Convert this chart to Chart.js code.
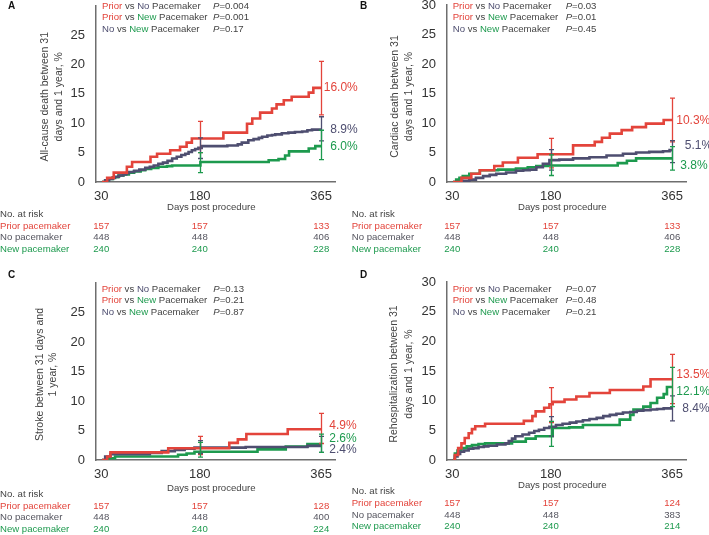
<!DOCTYPE html>
<html><head><meta charset="utf-8">
<script src="https://cdn.jsdelivr.net/npm/chart.js@4.4.1/dist/chart.umd.min.js"></script>
<style>
html,body{margin:0;padding:0;background:#fff;}
body{width:709px;height:535px;position:relative;overflow:hidden;}
canvas{position:absolute;}
</style></head><body>
<canvas id="cA" width="366" height="268" style="left:0;top:0"></canvas>
<canvas id="cB" width="359" height="268" style="left:350px;top:0"></canvas>
<canvas id="cC" width="366" height="267" style="left:0;top:268px"></canvas>
<canvas id="cD" width="359" height="267" style="left:350px;top:268px"></canvas>
<script>
// ---------- DATA ----------
const xTickDays = [30, 180, 365];
const ciDays = [180, 365];
const groupWords = ["Prior", "No", "New"];
const groupPairs = [[0, 1], [0, 2], [1, 2]];
const riskRowLabels = ["Prior pacemaker", "No pacemaker", "New pacemaker"];

// Panel A: all-cause death
const A_yTitle = ["All-cause death between 31", "days and 1 year, %"];
const A_pvals = ["0.004", "0.001", "0.17"];
const A_endLabels = ["16.0%", "8.9%", "6.0%"];
const A_risk_prior = [157, 157, 133];
const A_risk_no = [448, 448, 406];
const A_risk_new = [240, 240, 228];
const A_prior_days = [31, 39, 49, 69, 77, 105, 115, 135, 150, 160, 168, 216, 252, 260, 272, 290, 297, 308, 320, 346, 353, 365];
const A_prior_pct  = [0, 0.7, 1.6, 2.6, 3.4, 4.3, 4.8, 5.4, 6.0, 6.7, 7.4, 8.4, 9.9, 10.8, 11.8, 12.5, 13.2, 13.9, 14.5, 15.2, 16.0, 16.0];
const A_no_days = [31, 36, 42, 47, 51, 57, 63, 68, 72, 80, 88, 97, 104, 110, 117, 124, 131, 138, 145, 152, 158, 163, 168, 173, 178, 183, 200, 222, 238, 244, 254, 262, 270, 275, 283, 290, 295, 305, 315, 325, 336, 344, 351, 365];
const A_no_pct  = [0, 0.3, 0.5, 0.7, 0.9, 1.1, 1.3, 1.5, 1.7, 1.9, 2.1, 2.4, 2.6, 2.8, 3.1, 3.3, 3.6, 4.0, 4.3, 4.6, 4.8, 5.1, 5.4, 5.6, 5.8, 6.1, 6.1, 6.2, 6.4, 6.7, 7.1, 7.3, 7.5, 7.7, 7.9, 8.0, 8.1, 8.3, 8.4, 8.5, 8.6, 8.8, 8.9, 8.9];
const A_new_days = [31, 36, 41, 48, 56, 64, 72, 80, 90, 97, 106, 117, 130, 138, 181, 285, 300, 310, 316, 346, 356, 365];
const A_new_pct  = [0, 0.3, 0.5, 0.8, 1.1, 1.3, 1.6, 1.8, 2.0, 2.2, 2.4, 2.6, 2.7, 2.8, 3.4, 3.7, 3.9, 4.5, 5.2, 5.7, 6.1, 6.1];
const A_prior_lo = [5.0, 11.4], A_prior_hi = [10.3, 20.5];
const A_no_lo = [4.0, 7.0], A_no_hi = [7.5, 11.1];
const A_new_lo = [1.6, 3.8], A_new_hi = [5.0, 8.8];

// Panel B: cardiac death
const B_yTitle = ["Cardiac death between 31", "days and 1 year, %"];
const B_pvals = ["0.03", "0.01", "0.45"];
const B_endLabels = ["10.3%", "5.1%", "3.8%"];
const B_risk_prior = [157, 157, 133];
const B_risk_no = [448, 448, 406];
const B_risk_new = [240, 240, 228];
const B_prior_days = [31, 44, 59, 72, 94, 107, 130, 160, 214, 247, 258, 270, 288, 304, 325, 352, 365];
const B_prior_pct  = [0, 0.7, 1.4, 2.0, 2.7, 3.3, 4.1, 4.7, 6.2, 6.8, 7.5, 8.2, 8.8, 9.3, 9.9, 10.5, 10.5];
const B_no_days = [31, 46, 56, 66, 77, 87, 97, 112, 127, 138, 148, 158, 168, 178, 193, 214, 239, 265, 290, 310, 330, 351, 361, 365];
const B_no_pct  = [0, 0.2, 0.4, 0.7, 1.0, 1.2, 1.4, 1.6, 1.9, 2.0, 2.1, 2.5, 3.1, 3.7, 3.8, 4.0, 4.2, 4.5, 4.8, 5.0, 5.1, 5.2, 5.4, 5.4];
const B_new_days = [31, 36, 41, 46, 56, 72, 100, 127, 145, 158, 176, 282, 296, 310, 365];
const B_new_pct  = [0, 0.4, 0.7, 1.0, 1.4, 2.0, 2.1, 2.3, 2.5, 2.7, 2.8, 3.2, 3.6, 4.0, 4.0];
const B_prior_lo = [2.4, 6.8], B_prior_hi = [7.4, 14.2];
const B_no_lo = [2.0, 3.3], B_no_hi = [5.5, 7.0];
const B_new_lo = [1.1, 2.0], B_new_hi = [4.6, 6.0];

// Panel C: stroke
const C_yTitle = ["Stroke between 31 days and", "1 year, %"];
const C_pvals = ["0.13", "0.21", "0.87"];
const C_endLabels = ["4.9%", "2.4%", "2.6%"];
const C_risk_prior = [157, 157, 128];
const C_risk_no = [448, 448, 400];
const C_risk_new = [240, 240, 224];
const C_prior_days = [31, 39, 44, 132, 225, 238, 251, 314, 365];
const C_prior_pct  = [0, 0.6, 1.3, 2.0, 2.9, 3.5, 4.4, 5.2, 5.2];
const C_no_days = [31, 36, 44, 104, 122, 142, 157, 172, 250, 344, 365];
const C_no_pct  = [0, 0.6, 1.0, 1.2, 1.5, 1.7, 1.9, 2.1, 2.2, 2.4, 2.4];
const C_new_days = [31, 41, 51, 147, 160, 172, 268, 311, 344, 365];
const C_new_pct  = [0, 0.3, 0.6, 0.9, 1.1, 1.4, 1.8, 2.3, 2.7, 2.7];
const C_prior_lo = [0.9, 2.8], C_prior_hi = [4.0, 7.9];
const C_no_lo = [1.1, 1.3], C_no_hi = [3.3, 4.0];
const C_new_lo = [0.5, 1.3], C_new_hi = [3.0, 4.4];

// Panel D: rehospitalization
const D_yTitle = ["Rehospitalization between 31", "days and 1 year, %"];
const D_pvals = ["0.07", "0.48", "0.21"];
const D_endLabels = ["13.5%", "8.4%", "12.1%"];
const D_risk_prior = [157, 157, 124];
const D_risk_no = [448, 448, 383];
const D_risk_new = [240, 240, 214];
const D_prior_days = [31, 34, 39, 44, 49, 55, 60, 65, 80, 139, 152, 157, 170, 178, 183, 201, 219, 239, 270, 321, 332, 365];
const D_prior_pct  = [0, 0.85, 2.0, 2.8, 3.7, 4.5, 5.2, 5.7, 6.1, 6.6, 7.4, 8.2, 8.8, 9.4, 9.8, 10.2, 10.7, 11.3, 11.8, 12.4, 13.6, 13.6];
const D_no_days = [31, 34, 38, 42, 48, 55, 62, 70, 78, 85, 98, 111, 116, 121, 126, 137, 147, 155, 162, 170, 178, 188, 198, 209, 219, 229, 239, 250, 260, 270, 280, 290, 301, 311, 321, 332, 342, 352, 365];
const D_no_pct  = [0, 0.6, 1.0, 1.4, 1.6, 1.9, 2.0, 2.2, 2.3, 2.4, 2.6, 2.8, 3.2, 3.6, 4.0, 4.3, 4.6, 4.9, 5.1, 5.4, 5.6, 5.9, 6.1, 6.3, 6.5, 6.7, 6.9, 7.1, 7.4, 7.6, 7.8, 8.0, 8.1, 8.3, 8.4, 8.5, 8.6, 8.7, 8.7];
const D_new_days = [31, 34, 38, 44, 52, 60, 70, 80, 121, 142, 157, 183, 208, 229, 285, 301, 306, 321, 332, 342, 352, 357, 365];
const D_new_pct  = [0, 1.1, 1.6, 2.0, 2.3, 2.5, 2.7, 2.8, 3.1, 3.6, 4.0, 5.4, 5.5, 5.9, 6.8, 7.6, 8.5, 9.0, 9.6, 10.5, 11.1, 12.3, 12.3];
const D_prior_lo = [6.3, 9.5], D_prior_hi = [12.2, 17.8];
const D_no_lo = [4.0, 6.6], D_no_hi = [7.3, 10.8];
const D_new_lo = [2.3, 9.0], D_new_hi = [6.5, 15.6];

// ---------- STYLE ----------
const SERIES_COLORS = ["#e3443b", "#4e4e70", "#1d9a4e"];
const RISK_COLORS = ["#e3443b", "#55555f", "#1d9a4e"];
const GRAY = "#444444";
const TICK = "#333333";
const AXIS = "#6e6e6e";
const FONT = 'Arial, "Liberation Sans", Helvetica, sans-serif';

const PANELS = [
  { id: "cA", letter: "A", w: 366, h: 268, area: {l: 96, t: 5.6, r: 335, b: 182}, hide30: true,
    yTitle: A_yTitle, pvals: A_pvals, endLabels: A_endLabels, risk: [A_risk_prior, A_risk_no, A_risk_new],
    series: [[A_prior_days, A_prior_pct, A_prior_lo, A_prior_hi], [A_no_days, A_no_pct, A_no_lo, A_no_hi], [A_new_days, A_new_pct, A_new_lo, A_new_hi]],
    st: { letter: [8, 6.5], pX: 102, pCol: 213, pRows: [6, 17.3, 29], yTitleX: [45, 59], xTitleY: 207.7,
          riskX: 0, riskRows: [214.3, 226, 237.7, 249.3], lab: [[2.5, 0], [9, 0], [9, 0]] } },
  { id: "cB", letter: "B", w: 359, h: 268, area: {l: 97, t: 5, r: 336, b: 182}, hide30: false,
    yTitle: B_yTitle, pvals: B_pvals, endLabels: B_endLabels, risk: [B_risk_prior, B_risk_no, B_risk_new],
    series: [[B_prior_days, B_prior_pct, B_prior_lo, B_prior_hi], [B_no_days, B_no_pct, B_no_lo, B_no_hi], [B_new_days, B_new_pct, B_new_lo, B_new_hi]],
    st: { letter: [10, 6], pX: 102.7, pCol: 215.7, pRows: [6, 17.3, 29], yTitleX: [45, 59], xTitleY: 207.7,
          riskX: 1.7, riskRows: [214.3, 226, 237.7, 249.3], lab: [[4, -1], [12.5, -6], [8, 6.5]] } },
  { id: "cC", letter: "C", w: 366, h: 267, area: {l: 96, t: 15, r: 335, b: 192}, hide30: true,
    yTitle: C_yTitle, pvals: C_pvals, endLabels: C_endLabels, risk: [C_risk_prior, C_risk_no, C_risk_new],
    series: [[C_prior_days, C_prior_pct, C_prior_lo, C_prior_hi], [C_no_days, C_no_pct, C_no_lo, C_no_hi], [C_new_days, C_new_pct, C_new_lo, C_new_hi]],
    st: { letter: [8, 7], pX: 101.7, pCol: 213.3, pRows: [21, 32.7, 44.3], yTitleX: [40, 53], xTitleY: 220,
          riskX: 0, riskRows: [226.3, 238, 249.7, 261.3], lab: [[8, -5], [8, 4], [8, -6]] } },
  { id: "cD", letter: "D", w: 359, h: 267, area: {l: 97, t: 14, r: 336, b: 192}, hide30: false,
    yTitle: D_yTitle, pvals: D_pvals, endLabels: D_endLabels, risk: [D_risk_prior, D_risk_no, D_risk_new],
    series: [[D_prior_days, D_prior_pct, D_prior_lo, D_prior_hi], [D_no_days, D_no_pct, D_no_lo, D_no_hi], [D_new_days, D_new_pct, D_new_lo, D_new_hi]],
    st: { letter: [10, 7], pX: 102.7, pCol: 215.7, pRows: [21, 32.7, 44.3], yTitleX: [44, 59], xTitleY: 217.7,
          riskX: 1.7, riskRows: [223.7, 235.3, 247, 258.7], lab: [[4, -5], [10, -1], [4, 3]] } }
];

function txt(ctx, s, x, y, color, size, o) {
  o = o || {};
  ctx.font = (o.style || "normal") + " " + (o.weight || "normal") + " " + size + "px " + FONT;
  ctx.fillStyle = color;
  ctx.textAlign = o.align || "left";
  ctx.textBaseline = "middle";
  ctx.fillText(s, x, y);
  return ctx.measureText(s).width;
}

const overlay = {
  id: "overlay",
  afterDatasetsDraw(chart, args, opts) {
    const p = PANELS[opts.idx];
    const ctx = chart.ctx, xs = chart.scales.x, ys = chart.scales.y;
    ctx.save();
    p.series.forEach((s, i) => {
      ctx.strokeStyle = SERIES_COLORS[i];
      ctx.lineWidth = 1.3;
      ciDays.forEach((d, k) => {
        const x = Math.round(xs.getPixelForValue(d)) + 0.5;
        const y1 = ys.getPixelForValue(s[2][k]), y2 = ys.getPixelForValue(s[3][k]);
        ctx.beginPath();
        ctx.moveTo(x, y1); ctx.lineTo(x, y2);
        ctx.moveTo(x - 2.5, y1); ctx.lineTo(x + 2.5, y1);
        ctx.moveTo(x - 2.5, y2); ctx.lineTo(x + 2.5, y2);
        ctx.stroke();
      });
    });
    ctx.restore();
  },
  afterDraw(chart, args, opts) {
    const p = PANELS[opts.idx], st = p.st;
    const ctx = chart.ctx, xs = chart.scales.x, ys = chart.scales.y, ca = chart.chartArea;
    ctx.save();
    txt(ctx, p.letter, st.letter[0], st.letter[1], "#111", 10, {weight: "bold"});
    groupPairs.forEach((pr, r) => {
      const y = st.pRows[r];
      let x = st.pX;
      x += txt(ctx, groupWords[pr[0]], x, y, SERIES_COLORS[pr[0]], 9.6);
      x += txt(ctx, " vs ", x, y, GRAY, 9.6);
      x += txt(ctx, groupWords[pr[1]], x, y, SERIES_COLORS[pr[1]], 9.6);
      txt(ctx, " Pacemaker", x, y, GRAY, 9.6);
      let px = st.pCol;
      px += txt(ctx, "P", px, y, GRAY, 9.6, {style: "italic"});
      txt(ctx, "=" + p.pvals[r], px, y, GRAY, 9.6);
    });
    p.endLabels.forEach((lab, i) => {
      const x = xs.getPixelForValue(365) + st.lab[i][0];
      const y = ys.getPixelForValue(parseFloat(lab)) + st.lab[i][1];
      txt(ctx, lab, x, y, SERIES_COLORS[i], 12);
    });
    const cy = (ca.top + ca.bottom) / 2 + 3;
    p.yTitle.forEach((line, i) => {
      ctx.save();
      ctx.translate(st.yTitleX[i], cy);
      ctx.rotate(-Math.PI / 2);
      txt(ctx, line, 0, 0, GRAY, 10.5, {align: "center"});
      ctx.restore();
    });
    txt(ctx, "Days post procedure", xs.getPixelForValue((xTickDays[0] + xTickDays[2]) / 2), st.xTitleY, GRAY, 9.6, {align: "center"});
    txt(ctx, "No. at risk", st.riskX, st.riskRows[0], GRAY, 9.6);
    p.risk.forEach((row, i) => {
      const y = st.riskRows[i + 1];
      txt(ctx, riskRowLabels[i], st.riskX, y, RISK_COLORS[i], 9.6);
      row.forEach((n, k) => {
        txt(ctx, String(n), xs.getPixelForValue(xTickDays[k]), y, RISK_COLORS[i], 9.6, {align: "center"});
      });
    });
    ctx.restore();
  }
};

PANELS.forEach((p, idx) => {
  const a = p.area;
  const names = ["Prior pacemaker", "No pacemaker", "New pacemaker"];
  const datasets = p.series.map((s, i) => ({
    label: names[i],
    data: s[0].map((d, j) => ({x: d, y: s[1][j]})),
    borderColor: SERIES_COLORS[i],
    backgroundColor: SERIES_COLORS[i],
    borderWidth: 2.6,
    pointRadius: 0,
    stepped: "before",
    fill: false,
    tension: 0
  }));
  new Chart(document.getElementById(p.id), {
    type: "line",
    data: {datasets},
    plugins: [overlay],
    options: {
      responsive: false,
      animation: false,
      devicePixelRatio: 1,
      layout: {padding: {left: 0, top: a.t, right: p.w - a.r, bottom: 0}},
      plugins: {legend: {display: false}, tooltip: {enabled: false}, overlay: {idx: idx}},
      scales: {
        x: {
          type: "linear", min: 22, max: 386, bounds: "data",
          grid: {display: false, drawTicks: true, tickLength: 5},
          border: {display: true, color: AXIS, width: 1.5},
          ticks: {color: TICK, font: {family: FONT, size: 13}, padding: 2, maxRotation: 0, autoSkip: false,
                  callback: v => String(v)},
          afterBuildTicks: s => { s.ticks = xTickDays.map(v => ({value: v})); },
          afterFit: s => { s.height = p.h - a.b; s.paddingLeft = 0; s.paddingRight = 0; }
        },
        y: {
          type: "linear", min: 0, max: 30,
          grid: {display: false, drawTicks: true, tickLength: 8},
          border: {display: true, color: AXIS, width: 1.5},
          ticks: {stepSize: 5, color: TICK, font: {family: FONT, size: 13}, padding: 3,
                  callback: v => (p.hide30 && v === 30) ? "" : String(v)},
          afterFit: s => { s.width = a.l; s.paddingTop = 0; s.paddingBottom = 0; }
        }
      }
    }
  });
});
</script>
</body></html>
